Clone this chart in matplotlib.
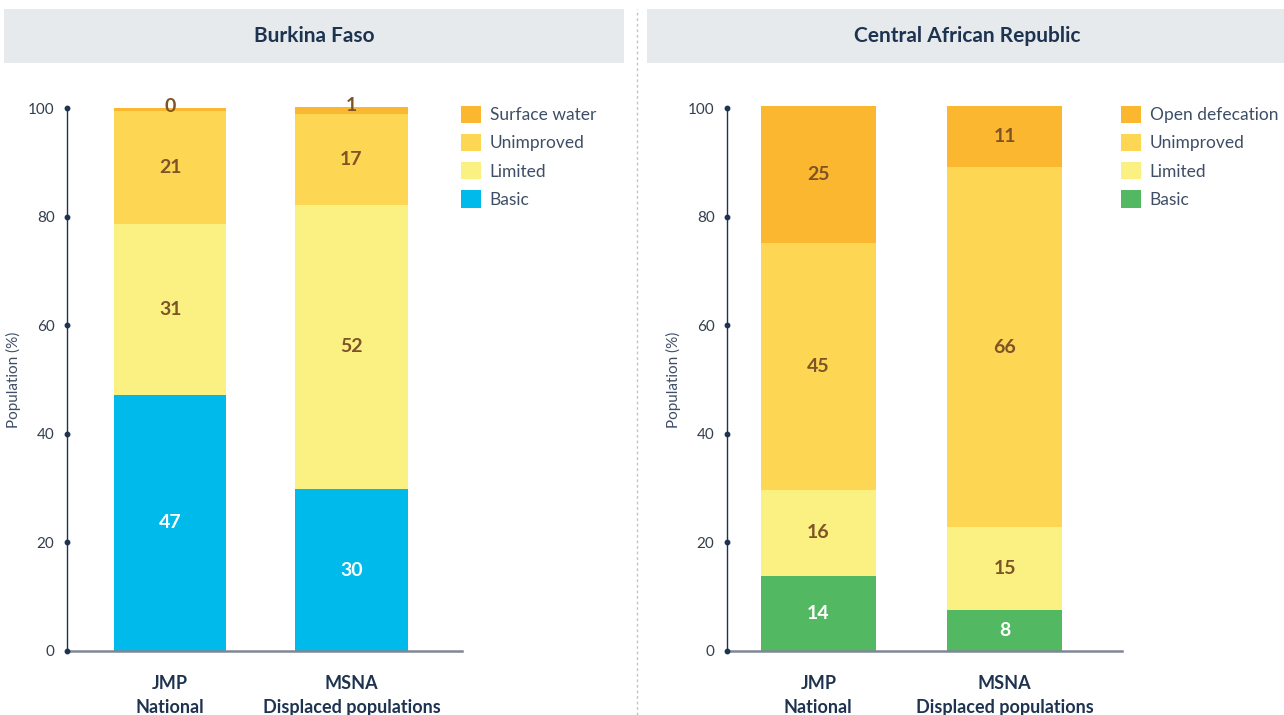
import matplotlib
matplotlib.use("Agg")
import matplotlib.pyplot as plt
from matplotlib.patches import Rectangle, Patch
from matplotlib.lines import Line2D

plt.rcParams['font.family'] = ['Lato', 'DejaVu Sans']

# Données (pourcentages de population)
groups = ["JMP\nNational", "MSNA\nDisplaced populations"]

bf_title = "Burkina Faso"
bf_levels = ["Basic", "Limited", "Unimproved", "Surface water"]
bf_basic = [47.2, 29.8]
bf_limited = [31.4, 52.4]
bf_unimproved = [20.9, 16.7]
bf_surface = [0.45, 1.3]

car_title = "Central African Republic"
car_levels = ["Basic", "Limited", "Unimproved", "Open defecation"]
car_basic = [13.8, 7.6]
car_limited = [15.9, 15.2]
car_unimproved = [45.4, 66.3]
car_open = [25.2, 11.2]

yticks = [0, 20, 40, 60, 80, 100]

# Couleurs
c_top = "#FBB72F"
c_unimp = "#FDD654"
c_lim = "#FBF082"
c_basic_bf = "#00BAEB"
c_basic_car = "#52B862"
navy = "#1E3350"
txt_gray = "#3E4E66"
brown = "#7E5427"

fig = plt.figure(figsize=(12.84, 7.15), dpi=100)
W, H = 1284, 715


def fx(px):
    return px / W


def fy(py):
    return 1 - py / H


# Bandeaux de titre
fig.patches.append(Rectangle((fx(4), fy(63)), fx(620), 54 / H, transform=fig.transFigure,
                             facecolor="#E6EAED", edgecolor="none", zorder=0))
fig.patches.append(Rectangle((fx(647), fy(63)), fx(640), 54 / H, transform=fig.transFigure,
                             facecolor="#E6EAED", edgecolor="none", zorder=0))
fig.text(fx(314), fy(36), bf_title, ha="center", va="center", fontsize=15,
         fontweight="bold", color=navy)
fig.text(fx(967), fy(36), car_title, ha="center", va="center", fontsize=15,
         fontweight="bold", color=navy)

# Séparateur pointillé
fig.add_artist(Line2D([fx(637), fx(637)], [0, fy(9)], transform=fig.transFigure,
                      color="#BFC5CC", linestyle=(0, (2, 2)), linewidth=1))


def draw_panel(ax, series, colors, label_colors, levels, xlim):
    x = [0, 1]
    bottom = [0, 0]
    for vals, col, lcol in zip(series, colors, label_colors):
        ax.bar(x, vals, width=0.62, bottom=bottom, color=col, edgecolor="none",
               clip_on=False, zorder=2)
        for i in range(2):
            yc = bottom[i] + vals[i] / 2
            if vals[i] < 3:
                yc = bottom[i] + vals[i] + 0.3
            ax.text(x[i], yc, f"{round(vals[i])}", ha="center", va="center",
                    fontsize=14, fontweight="bold", color=lcol, zorder=3)
        bottom = [b + v for b, v in zip(bottom, vals)]

    ax.set_xlim(*xlim)
    ax.set_ylim(0, 100)
    ax.set_yticks(yticks)
    ax.set_yticklabels([str(t) for t in yticks])
    ax.tick_params(axis="y", length=0, pad=9, labelsize=11, labelcolor="#333F4F")
    ax.set_xticks(x)
    ax.set_xticklabels(groups, fontsize=13, fontweight="bold", color=navy, linespacing=1.55)
    ax.tick_params(axis="x", length=0, pad=17)
    ax.set_ylabel("Population (%)", fontsize=11, color=txt_gray, labelpad=5)
    for s in ["top", "right"]:
        ax.spines[s].set_visible(False)
    ax.spines["left"].set_color(navy)
    ax.spines["left"].set_linewidth(1)
    ax.spines["bottom"].set_color("#7E8894")
    ax.spines["bottom"].set_linewidth(1.8)
    ax.plot([0] * len(yticks), yticks, "o", color=navy, markersize=3.2,
            transform=ax.get_yaxis_transform(), clip_on=False, zorder=4)

    handles = [Patch(facecolor=c, edgecolor="none") for c in reversed(colors)]
    ax.legend(handles, list(reversed(levels)), loc="upper left", bbox_to_anchor=(0.98, 1.017),
              frameon=False, fontsize=12.5, labelcolor=txt_gray, handlelength=1.15,
              handleheight=1.15, handletextpad=0.5, labelspacing=0.62, borderaxespad=0)


ax1 = fig.add_axes([fx(67), fy(651), fx(395), 543 / H])
draw_panel(ax1, [bf_basic, bf_limited, bf_unimproved, bf_surface],
           [c_basic_bf, c_lim, c_unimp, c_top], ["white", brown, brown, brown],
           bf_levels, (-0.57, 1.61))

ax2 = fig.add_axes([fx(727), fy(651), fx(395), 543 / H])
draw_panel(ax2, [car_basic, car_limited, car_unimproved, car_open],
           [c_basic_car, c_lim, c_unimp, c_top], ["white", brown, brown, brown],
           car_levels, (-0.49, 1.63))

fig.savefig("out.png", dpi=100)
